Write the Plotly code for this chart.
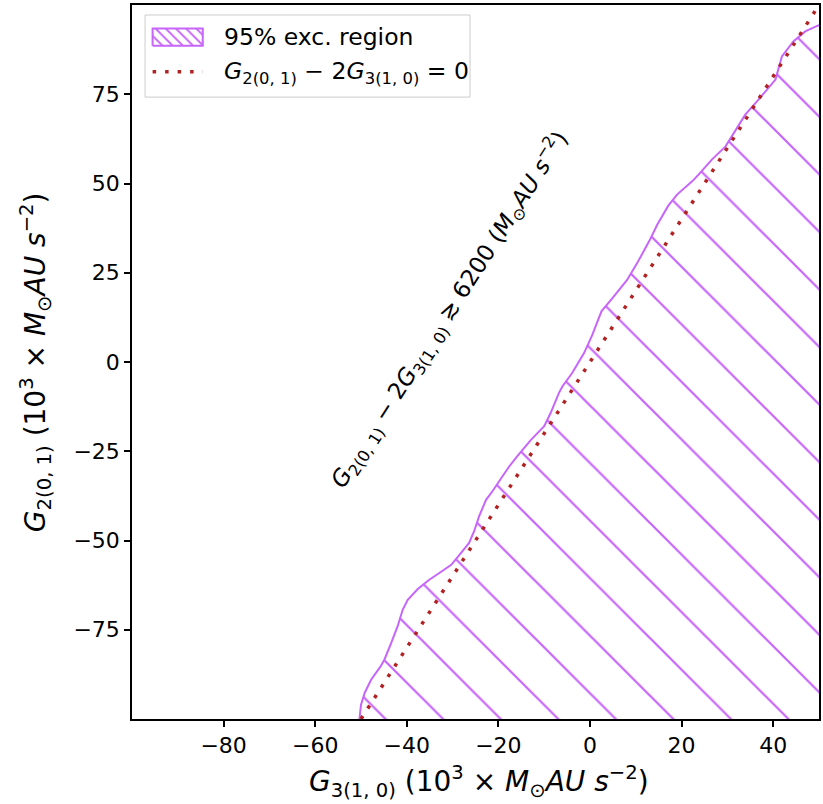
import plotly.graph_objects as go

# Boundary of the 95% exclusion region (G3 in x, G2 in y)
excl_g3 = [-50.5, -50.0, -49.2, -47.8, -45.8, -44.9, -43.4, -42.0, -40.9, -39.8, -37.6,
           -35.1, -32.9, -30.3, -28.5, -26.4, -25.3, -24.2, -22.7, -21.3, -19.1, -17.6,
           -16.0, -12.9, -10.0, -8.6, -6.8, -6.0, -3.9, -2.4, -1.3, 0.5, 2.5, 4.9, 8.1,
           10.3, 12.9, 14.7, 17.1, 19.0, 22.3, 23.7, 26.6, 29.6, 33.9, 36.8, 39.0, 40.5,
           41.9, 44.4, 47.0, 49.7, 52.0, 52.0, -50.5]
excl_g2 = [-102.0, -96.0, -92.7, -89.0, -85.4, -83.4, -78.7, -74.0, -69.4, -66.6, -63.6,
           -61.0, -59.1, -56.8, -54.0, -50.7, -47.4, -43.2, -38.6, -36.2, -32.0, -29.2,
           -26.6, -21.8, -18.0, -14.3, -8.7, -6.8, -3.1, 0.2, 2.5, 7.6, 14.2, 17.9, 23.0,
           27.7, 33.8, 38.5, 43.8, 46.9, 50.6, 52.5, 56.7, 60.4, 69.3, 73.5, 76.8, 79.1,
           85.6, 89.8, 92.6, 94.2, 95.0, -102.0, -102.0]

# Line G2 - 2 G3 = 0
line_g3 = [-50.0, 50.0]
line_g2 = [2 * v for v in line_g3]

x_ticks = [-80, -60, -40, -20, 0, 20, 40]
y_ticks = [-75, -50, -25, 0, 25, 50, 75]
x_range = [-100, 50]
y_range = [-100, 100]

legend_labels = ["95% exc. region",
                 "<i>G</i><sub>2(0, 1)</sub> − 2<i>G</i><sub>3(1, 0)</sub> = 0"]
units = "(10<sup>3</sup> × <i>M</i><sub>⊙</sub><i>AU s</i><sup>−2</sup>)"
x_title = "<i>G</i><sub>3(1, 0)</sub> " + units
y_title = "<i>G</i><sub>2(0, 1)</sub> " + units
note = ("<i>G</i><sub>2(0, 1)</sub> − 2<i>G</i><sub>3(1, 0)</sub> ≳ 6200 "
        "(<i>M</i><sub>⊙</sub><i>AU s</i><sup>−2</sup>)")

VIOLET = "#c765fa"
RED = "#b22222"
FONT = "DejaVu Sans"

fig = go.Figure()
fig.add_trace(go.Scatter(
    x=excl_g3, y=excl_g2, mode="lines", fill="toself",
    fillcolor="rgba(0,0,0,0)",
    fillpattern=dict(shape="\\", fgcolor=VIOLET, fgopacity=1, bgcolor="rgba(0,0,0,0)",
                     size=40.7, solidity=0.055, fillmode="overlay"),
    line=dict(color=VIOLET, width=2),
    name=legend_labels[0], showlegend=False,
))
fig.add_trace(go.Scatter(
    x=line_g3, y=line_g2, mode="lines",
    line=dict(color=RED, width=3.5, dash="3.5px,9px"),
    name=legend_labels[1], showlegend=False,
))

# ---- hand-built legend (matplotlib-like hatched patch) on an overlay unit axis ----
lx0, lx1 = 0.030, 0.103      # key horizontal extent (fraction of plot area)
py0, py1 = 0.943, 0.967      # patch vertical extent
ly = 0.9066                  # dotted key line height
fig.add_shape(type="rect", xref="paper", yref="paper", x0=0.019, x1=0.492, y0=0.871, y1=0.986,
              line=dict(color="#cccccc", width=1), fillcolor="rgba(255,255,255,0.8)", layer="below")
fig.add_trace(go.Scatter(
    x=[lx0, lx1, lx1, lx0, lx0], y=[py0, py0, py1, py1, py0], xaxis="x2", yaxis="y2",
    mode="lines", fill="toself", fillcolor="rgba(0,0,0,0)",
    fillpattern=dict(shape="\\", fgcolor=VIOLET, fgopacity=1, bgcolor="rgba(0,0,0,0)",
                     size=7.2, solidity=0.26, fillmode="overlay"),
    line=dict(color=VIOLET, width=2), showlegend=False, hoverinfo="skip",
))
fig.add_trace(go.Scatter(
    x=[lx0, lx1], y=[ly, ly], xaxis="x2", yaxis="y2", mode="lines",
    line=dict(color=RED, width=3.5, dash="3.5px,9px"), showlegend=False, hoverinfo="skip",
))
for lab, yy in zip(legend_labels, [0.955, 0.906]):
    fig.add_annotation(x=0.131, y=yy, xref="paper", yref="paper", text=lab, showarrow=False,
                       xanchor="left", yanchor="middle",
                       font=dict(family=FONT, size=23.5, color="black"))

fig.add_annotation(
    x=-30.8, y=14.8, xref="x", yref="y", showarrow=False, textangle=-57.3,
    text=note, font=dict(family=FONT, size=23, color="black"),
)

# axis titles
fig.add_annotation(x=0.505, y=-0.0875, xref="paper", yref="paper", text=x_title, showarrow=False,
                   xanchor="center", yanchor="middle", font=dict(family=FONT, size=28, color="black"))
fig.add_annotation(x=-0.141, y=0.50, xref="paper", yref="paper", text=y_title, showarrow=False,
                   textangle=-90, xanchor="center", yanchor="middle",
                   font=dict(family=FONT, size=28, color="black"))

axis_common = dict(
    showgrid=False, zeroline=False, showline=True, linecolor="black", linewidth=1.5,
    mirror=True, ticks="outside", ticklen=6, tickwidth=1.5, tickcolor="black",
    tickfont=dict(family=FONT, size=22, color="black"),
)
fig.update_xaxes(range=x_range, tickvals=x_ticks, **axis_common)
fig.update_yaxes(range=y_range, tickvals=y_ticks, **axis_common)

fig.update_layout(
    width=823, height=804,
    margin=dict(l=132, r=4, t=5, b=85, autoexpand=False),
    plot_bgcolor="white", paper_bgcolor="white",
    xaxis2=dict(overlaying="x", range=[0, 1], visible=False, fixedrange=True),
    yaxis2=dict(overlaying="y", range=[0, 1], visible=False, fixedrange=True),
    showlegend=False,
)

fig.write_html("out.html")
